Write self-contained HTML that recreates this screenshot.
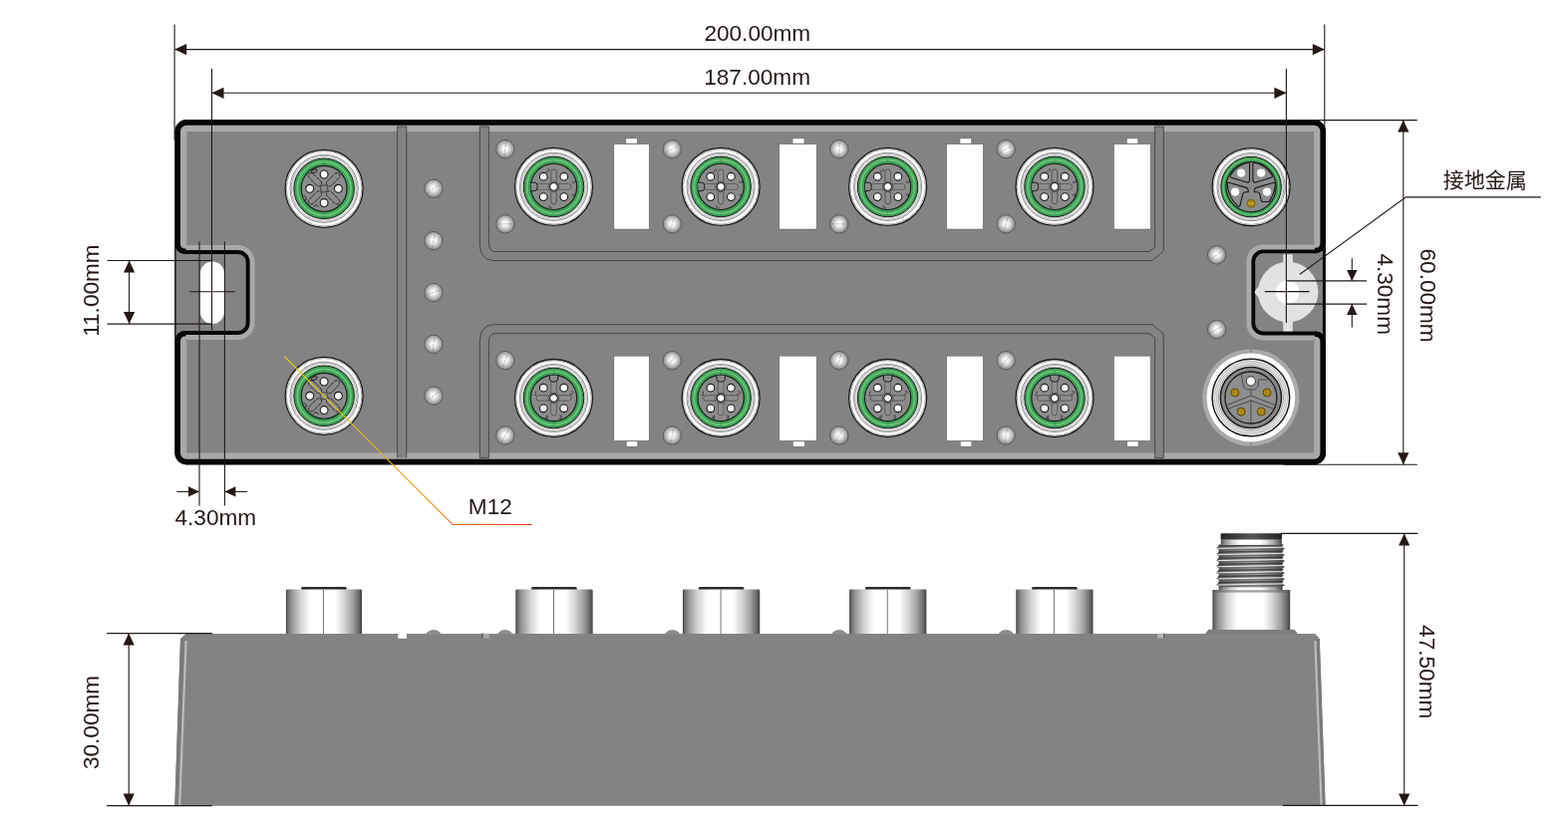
<!DOCTYPE html>
<html lang="zh">
<head>
<meta charset="utf-8">
<title>Dimension drawing</title>
<style>
html,body{margin:0;padding:0;background:#fff;}
body{width:1573px;height:839px;overflow:hidden;}
svg{display:block;transform:translateZ(0);will-change:transform;}
text{font-family:"Liberation Sans","Noto Sans CJK SC",sans-serif;font-size:22.6px;fill:#231815;}
.cjk{font-family:"Liberation Sans","Noto Sans CJK SC",sans-serif;font-size:21px;}
.dim{stroke:#231815;stroke-width:1.1;fill:none;}
.ah{fill:#231815;stroke:none;}
.thin{stroke:#2e2e2e;stroke-width:0.7;fill:none;}
</style>
</head>
<body>
<svg width="1573" height="839" viewBox="0 0 1573 839">
<defs>
<radialGradient id="screw" cx="0.5" cy="0.48" r="0.52">
<stop offset="0" stop-color="#ffffff"/><stop offset="0.25" stop-color="#f6f6f6"/><stop offset="0.55" stop-color="#cccccc"/><stop offset="0.82" stop-color="#9e9e9e"/><stop offset="1" stop-color="#888888"/>
</radialGradient>
<linearGradient id="cyl" x1="0" x2="1" y1="0" y2="0">
<stop offset="0" stop-color="#3e3e3e"/><stop offset="0.02" stop-color="#666666"/><stop offset="0.07" stop-color="#929292"/><stop offset="0.19" stop-color="#d2d2d2"/><stop offset="0.32" stop-color="#ffffff"/><stop offset="0.65" stop-color="#ffffff"/><stop offset="0.76" stop-color="#d8d8d8"/><stop offset="0.88" stop-color="#a0a0a0"/><stop offset="0.96" stop-color="#686868"/><stop offset="1" stop-color="#404040"/>
</linearGradient>
<linearGradient id="thr" x1="0" x2="1" y1="0" y2="0">
<stop offset="0" stop-color="#4a4a4a"/><stop offset="0.12" stop-color="#6e6e6e"/><stop offset="0.4" stop-color="#969696"/><stop offset="0.6" stop-color="#9e9e9e"/><stop offset="0.85" stop-color="#747474"/><stop offset="1" stop-color="#404040"/>
</linearGradient>
<linearGradient id="cap" x1="0" x2="1" y1="0" y2="0">
<stop offset="0" stop-color="#262626"/><stop offset="0.25" stop-color="#3c3c3c"/><stop offset="0.5" stop-color="#585858"/><stop offset="0.75" stop-color="#3c3c3c"/><stop offset="1" stop-color="#242424"/>
</linearGradient>
<linearGradient id="lead" gradientUnits="userSpaceOnUse" x1="285" y1="358" x2="534" y2="526">
<stop offset="0" stop-color="#e6d200"/><stop offset="0.6" stop-color="#f0a020"/><stop offset="1" stop-color="#e03a22"/>
</linearGradient>

<clipPath id="bodyclip"><path d="M187.0,120.3 H1318.4 A11.5,11.5 0 0 1 1329.9,131.8 V244.3 A10,10 0 0 1 1319.9,254.3 H1267.3 A8,8 0 0 0 1259.3,262.3 V324.5 A8,8 0 0 0 1267.3,332.5 H1319.9 A10,10 0 0 1 1329.9,342.5 V454.7 A11.5,11.5 0 0 1 1318.4,466.2 H187.0 A11.5,11.5 0 0 1 175.5,454.7 V342.0 A10,10 0 0 1 185.5,332.0 H238.7 A8,8 0 0 0 246.7,324.0 V263.0 A8,8 0 0 0 238.7,255.0 H185.5 A10,10 0 0 1 175.5,245.0 V131.8 A11.5,11.5 0 0 1 187.0,120.3 Z"/></clipPath>
</defs>
<rect x="0" y="0" width="1573" height="839" fill="#ffffff"/>
<g id="topview">
<rect x="175.4" y="240" width="80" height="105" fill="#838383"/>
<rect x="1250" y="240" width="79.6" height="105" fill="#838383"/>
<line x1="175.9" y1="240" x2="175.9" y2="345" stroke="#1a1a1a" stroke-width="1.5"/>
<line x1="1328.4" y1="240" x2="1328.4" y2="345" stroke="#0a0a0a" stroke-width="3"/>
<rect x="200.8" y="262.5" width="24.4" height="62.5" rx="12.2" ry="12.2" fill="#ffffff"/>
<g clip-path="url(#bodyclip)">
<path d="M187.0,120.3 H1318.4 A11.5,11.5 0 0 1 1329.9,131.8 V244.3 A10,10 0 0 1 1319.9,254.3 H1267.3 A8,8 0 0 0 1259.3,262.3 V324.5 A8,8 0 0 0 1267.3,332.5 H1319.9 A10,10 0 0 1 1329.9,342.5 V454.7 A11.5,11.5 0 0 1 1318.4,466.2 H187.0 A11.5,11.5 0 0 1 175.5,454.7 V342.0 A10,10 0 0 1 185.5,332.0 H238.7 A8,8 0 0 0 246.7,324.0 V263.0 A8,8 0 0 0 238.7,255.0 H185.5 A10,10 0 0 1 175.5,245.0 V131.8 A11.5,11.5 0 0 1 187.0,120.3 Z" fill="#838383"/>
<path d="M187.0,120.3 H1318.4 A11.5,11.5 0 0 1 1329.9,131.8 V244.3 A10,10 0 0 1 1319.9,254.3 H1267.3 A8,8 0 0 0 1259.3,262.3 V324.5 A8,8 0 0 0 1267.3,332.5 H1319.9 A10,10 0 0 1 1329.9,342.5 V454.7 A11.5,11.5 0 0 1 1318.4,466.2 H187.0 A11.5,11.5 0 0 1 175.5,454.7 V342.0 A10,10 0 0 1 185.5,332.0 H238.7 A8,8 0 0 0 246.7,324.0 V263.0 A8,8 0 0 0 238.7,255.0 H185.5 A10,10 0 0 1 175.5,245.0 V131.8 A11.5,11.5 0 0 1 187.0,120.3 Z" fill="none" stroke="#a9a9a9" stroke-width="17.8" stroke-linejoin="round"/>
<path d="M186.5,255.0 H185.5 A10,10 0 0 1 175.5,245.0 V131.8 A11.5,11.5 0 0 1 187.0,120.3 H1318.4 A11.5,11.5 0 0 1 1329.9,131.8 V244.3 A10,10 0 0 1 1319.9,254.3 h-1 M1318.9,332.5 H1319.9 A10,10 0 0 1 1329.9,342.5 V454.7 A11.5,11.5 0 0 1 1318.4,466.2 H187.0 A11.5,11.5 0 0 1 175.5,454.7 V342.0 A10,10 0 0 1 185.5,332.0 h1" fill="none" stroke="#a9a9a9" stroke-width="23.6" stroke-linejoin="round"/>
<path d="M187.0,120.3 H1318.4 A11.5,11.5 0 0 1 1329.9,131.8 V244.3 A10,10 0 0 1 1319.9,254.3 H1267.3 A8,8 0 0 0 1259.3,262.3 V324.5 A8,8 0 0 0 1267.3,332.5 H1319.9 A10,10 0 0 1 1329.9,342.5 V454.7 A11.5,11.5 0 0 1 1318.4,466.2 H187.0 A11.5,11.5 0 0 1 175.5,454.7 V342.0 A10,10 0 0 1 185.5,332.0 H238.7 A8,8 0 0 0 246.7,324.0 V263.0 A8,8 0 0 0 238.7,255.0 H185.5 A10,10 0 0 1 175.5,245.0 V131.8 A11.5,11.5 0 0 1 187.0,120.3 Z" fill="none" stroke="#060606" stroke-width="7.8" stroke-linejoin="round"/>
<path d="M186.5,255.0 H185.5 A10,10 0 0 1 175.5,245.0 V131.8 A11.5,11.5 0 0 1 187.0,120.3 H1318.4 A11.5,11.5 0 0 1 1329.9,131.8 V244.3 A10,10 0 0 1 1319.9,254.3 h-1 M1318.9,332.5 H1319.9 A10,10 0 0 1 1329.9,342.5 V454.7 A11.5,11.5 0 0 1 1318.4,466.2 H187.0 A11.5,11.5 0 0 1 175.5,454.7 V342.0 A10,10 0 0 1 185.5,332.0 h1" fill="none" stroke="#060606" stroke-width="11" stroke-linejoin="round"/>
</g>
<g fill="#e2e2e2">
<circle cx="1292.2" cy="293" r="30.2"/>
<path d="M1287.3,255.3 H1296.8 V262 Q1297,264.5 1300,266 H1284 Q1287,264.5 1287.3,262 Z"/>
<path d="M1287.3,332.4 H1296.8 V324 Q1297,321.5 1300,320 H1284 Q1287,321.5 1287.3,324 Z"/>
<path d="M1263.4,287.6 Q1259.4,290 1258.5,293.2 Q1259.4,296.4 1263.4,298.8 Z"/>
</g>
<ellipse cx="1291.5" cy="293.3" rx="11.8" ry="11.6" fill="#ffffff"/>
<rect x="398.6" y="127" width="9.199999999999989" height="332.5" fill="#838383"/>
<path class="thin" d="M398.6,459.5 V127 H407.8 V459.5"/>
<rect x="481.3" y="127" width="9.1" height="6" fill="#838383"/>
<rect x="1158.6" y="127" width="8.7" height="6" fill="#838383"/>
<path class="thin" d="M481.3,127 V244.7 Q481.3,260.5 495.0,261.5 H1155.8999999999999 L1166.3,252.9 Q1167.3,251.9 1167.3,250.0 V127"/>
<path class="thin" d="M490.4,127 V243.0 Q490.4,252.0 496.0,252.5 H1152.8999999999999 L1157.8,248.9 Q1158.6,248.1 1158.6,246.5 V127"/>
<path class="thin" d="M481.3,127 H490.4 M1158.6,127 H1167.3"/>
<rect x="481.3" y="453.5" width="9.1" height="6" fill="#838383"/>
<rect x="1158.6" y="453.5" width="8.7" height="6" fill="#838383"/>
<path class="thin" d="M481.3,459.5 V342.5 Q481.3,326.7 495.0,325.7 H1155.8999999999999 L1166.3,334.3 Q1167.3,335.3 1167.3,337.2 V459.5"/>
<path class="thin" d="M490.4,459.5 V344.2 Q490.4,335.2 496.0,334.7 H1152.8999999999999 L1157.8,338.3 Q1158.6,339.09999999999997 1158.6,340.7 V459.5"/>
<path class="thin" d="M481.3,459.5 H490.4 M1158.6,459.5 H1167.3"/>
<rect x="615.9" y="144.7" width="35.3" height="85.3" fill="#fff" stroke="#5a5a5a" stroke-width="0.5"/>
<rect x="627.9" y="138.9" width="11.3" height="5.2" fill="#fff" stroke="#6a6a6a" stroke-width="0.5"/>
<rect x="615.9" y="357.2" width="35.3" height="85.1" fill="#fff" stroke="#5a5a5a" stroke-width="0.5"/>
<rect x="628.3" y="442.9" width="11.3" height="5.2" fill="#fff" stroke="#6a6a6a" stroke-width="0.5"/>
<rect x="781.8" y="144.7" width="37.3" height="85.3" fill="#fff" stroke="#5a5a5a" stroke-width="0.5"/>
<rect x="795.1" y="138.9" width="11.8" height="5.2" fill="#fff" stroke="#6a6a6a" stroke-width="0.5"/>
<rect x="781.8" y="357.2" width="37.3" height="85.1" fill="#fff" stroke="#5a5a5a" stroke-width="0.5"/>
<rect x="795.5" y="442.9" width="11.8" height="5.2" fill="#fff" stroke="#6a6a6a" stroke-width="0.5"/>
<rect x="949.8" y="144.7" width="36.4" height="85.3" fill="#fff" stroke="#5a5a5a" stroke-width="0.5"/>
<rect x="963.0" y="138.9" width="11.4" height="5.2" fill="#fff" stroke="#6a6a6a" stroke-width="0.5"/>
<rect x="949.8" y="357.2" width="36.4" height="85.1" fill="#fff" stroke="#5a5a5a" stroke-width="0.5"/>
<rect x="963.4" y="442.9" width="11.4" height="5.2" fill="#fff" stroke="#6a6a6a" stroke-width="0.5"/>
<rect x="1117.5" y="144.7" width="36.6" height="85.3" fill="#fff" stroke="#5a5a5a" stroke-width="0.5"/>
<rect x="1130.4" y="138.9" width="11.2" height="5.2" fill="#fff" stroke="#6a6a6a" stroke-width="0.5"/>
<rect x="1117.5" y="357.2" width="36.6" height="85.1" fill="#fff" stroke="#5a5a5a" stroke-width="0.5"/>
<rect x="1130.8000000000002" y="442.9" width="11.2" height="5.2" fill="#fff" stroke="#6a6a6a" stroke-width="0.5"/>
<circle cx="434.9" cy="189.2" r="9.2" fill="url(#screw)" stroke="#3c3c3c" stroke-width="0.6"/>
<line x1="427.7" y1="194.2" x2="442.1" y2="184.2" stroke="#6a6a6a" stroke-width="0.4" stroke-dasharray="5 1.2 3 1"/>
<circle cx="434.9" cy="241.6" r="9.2" fill="url(#screw)" stroke="#3c3c3c" stroke-width="0.6"/>
<line x1="433.4" y1="250.2" x2="436.4" y2="233.0" stroke="#6a6a6a" stroke-width="0.4" stroke-dasharray="5 1.2 3 1"/>
<circle cx="434.9" cy="293.5" r="9.2" fill="url(#screw)" stroke="#3c3c3c" stroke-width="0.6"/>
<line x1="426.7" y1="296.5" x2="443.1" y2="290.5" stroke="#6a6a6a" stroke-width="0.4" stroke-dasharray="5 1.2 3 1"/>
<circle cx="434.9" cy="345.4" r="9.2" fill="url(#screw)" stroke="#3c3c3c" stroke-width="0.6"/>
<line x1="434.1" y1="354.1" x2="435.7" y2="336.7" stroke="#6a6a6a" stroke-width="0.4" stroke-dasharray="5 1.2 3 1"/>
<circle cx="434.9" cy="397.2" r="9.2" fill="url(#screw)" stroke="#3c3c3c" stroke-width="0.6"/>
<line x1="428.2" y1="402.8" x2="441.6" y2="391.6" stroke="#6a6a6a" stroke-width="0.4" stroke-dasharray="5 1.2 3 1"/>
<circle cx="506.8" cy="149.7" r="9.2" fill="url(#screw)" stroke="#3c3c3c" stroke-width="0.6"/>
<line x1="506.0" y1="158.4" x2="507.6" y2="141.0" stroke="#6a6a6a" stroke-width="0.4" stroke-dasharray="5 1.2 3 1"/>
<circle cx="506.8" cy="224.8" r="9.2" fill="url(#screw)" stroke="#3c3c3c" stroke-width="0.6"/>
<line x1="498.1" y1="224.8" x2="515.5" y2="224.8" stroke="#6a6a6a" stroke-width="0.4" stroke-dasharray="5 1.2 3 1"/>
<circle cx="506.8" cy="361.7" r="9.2" fill="url(#screw)" stroke="#3c3c3c" stroke-width="0.6"/>
<line x1="503.8" y1="369.9" x2="509.8" y2="353.5" stroke="#6a6a6a" stroke-width="0.4" stroke-dasharray="5 1.2 3 1"/>
<circle cx="506.8" cy="437.0" r="9.2" fill="url(#screw)" stroke="#3c3c3c" stroke-width="0.6"/>
<line x1="502.4" y1="444.6" x2="511.2" y2="429.4" stroke="#6a6a6a" stroke-width="0.4" stroke-dasharray="5 1.2 3 1"/>
<circle cx="674.3" cy="149.7" r="9.2" fill="url(#screw)" stroke="#3c3c3c" stroke-width="0.6"/>
<line x1="666.7" y1="154.1" x2="681.9" y2="145.3" stroke="#6a6a6a" stroke-width="0.4" stroke-dasharray="5 1.2 3 1"/>
<circle cx="674.3" cy="224.8" r="9.2" fill="url(#screw)" stroke="#3c3c3c" stroke-width="0.6"/>
<line x1="672.0" y1="233.2" x2="676.6" y2="216.4" stroke="#6a6a6a" stroke-width="0.4" stroke-dasharray="5 1.2 3 1"/>
<circle cx="674.3" cy="361.7" r="9.2" fill="url(#screw)" stroke="#3c3c3c" stroke-width="0.6"/>
<line x1="668.7" y1="368.4" x2="679.9" y2="355.0" stroke="#6a6a6a" stroke-width="0.4" stroke-dasharray="5 1.2 3 1"/>
<circle cx="674.3" cy="437.0" r="9.2" fill="url(#screw)" stroke="#3c3c3c" stroke-width="0.6"/>
<line x1="672.8" y1="445.6" x2="675.8" y2="428.4" stroke="#6a6a6a" stroke-width="0.4" stroke-dasharray="5 1.2 3 1"/>
<circle cx="841.8" cy="149.7" r="9.2" fill="url(#screw)" stroke="#3c3c3c" stroke-width="0.6"/>
<line x1="841.0" y1="158.4" x2="842.6" y2="141.0" stroke="#6a6a6a" stroke-width="0.4" stroke-dasharray="5 1.2 3 1"/>
<circle cx="841.8" cy="224.8" r="9.2" fill="url(#screw)" stroke="#3c3c3c" stroke-width="0.6"/>
<line x1="833.1" y1="224.8" x2="850.5" y2="224.8" stroke="#6a6a6a" stroke-width="0.4" stroke-dasharray="5 1.2 3 1"/>
<circle cx="841.8" cy="361.7" r="9.2" fill="url(#screw)" stroke="#3c3c3c" stroke-width="0.6"/>
<line x1="838.8" y1="369.9" x2="844.8" y2="353.5" stroke="#6a6a6a" stroke-width="0.4" stroke-dasharray="5 1.2 3 1"/>
<circle cx="841.8" cy="437.0" r="9.2" fill="url(#screw)" stroke="#3c3c3c" stroke-width="0.6"/>
<line x1="837.4" y1="444.6" x2="846.2" y2="429.4" stroke="#6a6a6a" stroke-width="0.4" stroke-dasharray="5 1.2 3 1"/>
<circle cx="1009.2" cy="149.7" r="9.2" fill="url(#screw)" stroke="#3c3c3c" stroke-width="0.6"/>
<line x1="1001.6" y1="154.1" x2="1016.8" y2="145.3" stroke="#6a6a6a" stroke-width="0.4" stroke-dasharray="5 1.2 3 1"/>
<circle cx="1009.2" cy="224.8" r="9.2" fill="url(#screw)" stroke="#3c3c3c" stroke-width="0.6"/>
<line x1="1006.9" y1="233.2" x2="1011.5" y2="216.4" stroke="#6a6a6a" stroke-width="0.4" stroke-dasharray="5 1.2 3 1"/>
<circle cx="1009.2" cy="361.7" r="9.2" fill="url(#screw)" stroke="#3c3c3c" stroke-width="0.6"/>
<line x1="1003.6" y1="368.4" x2="1014.8" y2="355.0" stroke="#6a6a6a" stroke-width="0.4" stroke-dasharray="5 1.2 3 1"/>
<circle cx="1009.2" cy="437.0" r="9.2" fill="url(#screw)" stroke="#3c3c3c" stroke-width="0.6"/>
<line x1="1007.7" y1="445.6" x2="1010.7" y2="428.4" stroke="#6a6a6a" stroke-width="0.4" stroke-dasharray="5 1.2 3 1"/>
<circle cx="1220.6" cy="255.9" r="9.2" fill="url(#screw)" stroke="#3c3c3c" stroke-width="0.6"/>
<line x1="1213.4" y1="260.9" x2="1227.8" y2="250.9" stroke="#6a6a6a" stroke-width="0.4" stroke-dasharray="5 1.2 3 1"/>
<circle cx="1220.6" cy="330.6" r="9.2" fill="url(#screw)" stroke="#3c3c3c" stroke-width="0.6"/>
<line x1="1213.0" y1="335.0" x2="1228.2" y2="326.2" stroke="#6a6a6a" stroke-width="0.4" stroke-dasharray="5 1.2 3 1"/>
<g transform="translate(325.1,189.3)">
<circle r="39.0" fill="#ffffff" stroke="#1a1a1a" stroke-width="1.3"/>
<circle r="37.7" fill="none" stroke="#5a5a5a" stroke-width="0.55"/>
<circle r="34.1" fill="none" stroke="#444" stroke-width="0.6"/>
<circle r="32.9" fill="none" stroke="#9a9a9a" stroke-width="0.8"/>
<circle r="31.5" fill="none" stroke="#bcbcbc" stroke-width="0.8"/>
<circle r="30.3" fill="#2f7f40" stroke="#1e1e1e" stroke-width="1"/>
<circle r="26.50" fill="none" stroke="#3f9f55" stroke-width="6.00"/>
<circle r="26.80" fill="none" stroke="#66c478" stroke-width="1.98"/>
<circle r="22.90" fill="#8b8b8b" stroke="#16241a" stroke-width="1.1"/>
<path d="M0,-30.3 V-23.4 M0,30.3 V23.4 M-30.3,0 h2 M30.3,0 h-2" stroke="#2a7038" stroke-width="0.4" fill="none" opacity="0.7"/>
<g transform="rotate(0)">
<g transform="rotate(45)"><rect x="-21" y="-2.9" width="16.4" height="5.8" rx="2.9" fill="none" stroke="#1c1c1c" stroke-width="0.85" stroke-dasharray="4 0.8"/><rect x="4.6" y="-2.9" width="16.4" height="5.8" rx="2.9" fill="none" stroke="#1c1c1c" stroke-width="0.85" stroke-dasharray="4 0.8"/></g>
<g transform="rotate(135)"><rect x="-21" y="-2.9" width="16.4" height="5.8" rx="2.9" fill="none" stroke="#1c1c1c" stroke-width="0.85" stroke-dasharray="4 0.8"/><rect x="4.6" y="-2.9" width="16.4" height="5.8" rx="2.9" fill="none" stroke="#1c1c1c" stroke-width="0.85" stroke-dasharray="4 0.8"/></g>
<circle r="3.7" fill="none" stroke="#262626" stroke-width="0.7"/>
<rect x="-12.6" y="-19" width="5.6" height="2.8" rx="1.2" transform="rotate(-24 -9.8 -17.6)" fill="#8b8b8b" stroke="#1a1a1a" stroke-width="0.9"/>
<path d="M-20.6,6.6 L-17.6,9.6 L-18.6,12.4 M-10.6,18 L-8,16.2 L-5.4,18.4" fill="none" stroke="#1a1a1a" stroke-width="0.9"/>
<circle cx="0" cy="-14.3" r="3.95" fill="#fff" stroke="#1a1a1a" stroke-width="1.1"/>
<circle cx="0" cy="14.3" r="3.95" fill="#fff" stroke="#1a1a1a" stroke-width="1.1"/>
<circle cx="-14.3" cy="0" r="3.95" fill="#fff" stroke="#1a1a1a" stroke-width="1.1"/>
<circle cx="14.3" cy="0" r="3.95" fill="#fff" stroke="#1a1a1a" stroke-width="1.1"/>
</g>
</g>
<g transform="translate(325.1,397.3)">
<circle r="39.0" fill="#ffffff" stroke="#1a1a1a" stroke-width="1.3"/>
<circle r="37.7" fill="none" stroke="#5a5a5a" stroke-width="0.55"/>
<circle r="34.1" fill="none" stroke="#444" stroke-width="0.6"/>
<circle r="32.9" fill="none" stroke="#9a9a9a" stroke-width="0.8"/>
<circle r="31.5" fill="none" stroke="#bcbcbc" stroke-width="0.8"/>
<circle r="30.3" fill="#2f7f40" stroke="#1e1e1e" stroke-width="1"/>
<circle r="26.50" fill="none" stroke="#3f9f55" stroke-width="6.00"/>
<circle r="26.80" fill="none" stroke="#66c478" stroke-width="1.98"/>
<circle r="22.90" fill="#8b8b8b" stroke="#16241a" stroke-width="1.1"/>
<path d="M0,-30.3 V-23.4 M0,30.3 V23.4 M-30.3,0 h2 M30.3,0 h-2" stroke="#2a7038" stroke-width="0.4" fill="none" opacity="0.7"/>
<g transform="rotate(0)">
<g transform="rotate(45)"><rect x="-21" y="-2.9" width="16.4" height="5.8" rx="2.9" fill="none" stroke="#1c1c1c" stroke-width="0.85" stroke-dasharray="4 0.8"/><rect x="4.6" y="-2.9" width="16.4" height="5.8" rx="2.9" fill="none" stroke="#1c1c1c" stroke-width="0.85" stroke-dasharray="4 0.8"/></g>
<g transform="rotate(135)"><rect x="-21" y="-2.9" width="16.4" height="5.8" rx="2.9" fill="none" stroke="#1c1c1c" stroke-width="0.85" stroke-dasharray="4 0.8"/><rect x="4.6" y="-2.9" width="16.4" height="5.8" rx="2.9" fill="none" stroke="#1c1c1c" stroke-width="0.85" stroke-dasharray="4 0.8"/></g>
<circle r="3.7" fill="none" stroke="#262626" stroke-width="0.7"/>
<rect x="-12.6" y="-19" width="5.6" height="2.8" rx="1.2" transform="rotate(-24 -9.8 -17.6)" fill="#8b8b8b" stroke="#1a1a1a" stroke-width="0.9"/>
<path d="M-20.6,6.6 L-17.6,9.6 L-18.6,12.4 M-10.6,18 L-8,16.2 L-5.4,18.4" fill="none" stroke="#1a1a1a" stroke-width="0.9"/>
<circle cx="0" cy="-14.3" r="3.95" fill="#fff" stroke="#1a1a1a" stroke-width="1.1"/>
<circle cx="0" cy="14.3" r="3.95" fill="#fff" stroke="#1a1a1a" stroke-width="1.1"/>
<circle cx="-14.3" cy="0" r="3.95" fill="#fff" stroke="#1a1a1a" stroke-width="1.1"/>
<circle cx="14.3" cy="0" r="3.95" fill="#fff" stroke="#1a1a1a" stroke-width="1.1"/>
</g>
</g>
<g transform="translate(555.5,187.4)">
<circle r="39.0" fill="#ffffff" stroke="#1a1a1a" stroke-width="1.3"/>
<circle r="37.7" fill="none" stroke="#5a5a5a" stroke-width="0.55"/>
<circle r="34.1" fill="none" stroke="#444" stroke-width="0.6"/>
<circle r="32.9" fill="none" stroke="#9a9a9a" stroke-width="0.8"/>
<circle r="31.5" fill="none" stroke="#bcbcbc" stroke-width="0.8"/>
<circle r="30.3" fill="#2f7f40" stroke="#1e1e1e" stroke-width="1"/>
<circle r="26.60" fill="none" stroke="#3f9f55" stroke-width="5.80"/>
<circle r="26.90" fill="none" stroke="#66c478" stroke-width="1.92"/>
<circle r="23.10" fill="#8b8b8b" stroke="#16241a" stroke-width="1.1"/>
<path d="M0,-30.3 V-23.4 M0,30.3 V23.4 M-30.3,0 h2 M30.3,0 h-2" stroke="#2a7038" stroke-width="0.4" fill="none" opacity="0.7"/>
<g transform="rotate(0)">
<rect x="-17.5" y="-2.7" width="35" height="5.4" rx="2.7" fill="#8e8e8e" stroke="#333" stroke-width="0.6"/>
<rect x="-2.7" y="-17.5" width="5.4" height="35" rx="2.7" fill="#8e8e8e" stroke="#333" stroke-width="0.6"/>
<rect x="-16.8" y="-2.3" width="33.6" height="4.6" rx="2.3" fill="#8e8e8e"/>
<circle r="5.4" fill="#8e8e8e" stroke="#333" stroke-width="0.6"/>
<path d="M-22.8,-4.2 H-19.4 Q-16.4,-4.2 -16.4,-1.2 V1.2 Q-16.4,4.2 -19.4,4.2 H-22.8" fill="#8b8b8b" stroke="#1a1a1a" stroke-width="1"/>
<circle cx="-10.3" cy="-10.2" r="3.8499999999999996" fill="#fff" stroke="#1a1a1a" stroke-width="1.1"/>
<circle cx="10.3" cy="-10.2" r="3.8499999999999996" fill="#fff" stroke="#1a1a1a" stroke-width="1.1"/>
<circle cx="-10.3" cy="10.2" r="3.8499999999999996" fill="#fff" stroke="#1a1a1a" stroke-width="1.1"/>
<circle cx="10.3" cy="10.2" r="3.8499999999999996" fill="#fff" stroke="#1a1a1a" stroke-width="1.1"/>
<circle cx="0" cy="0" r="3.8499999999999996" fill="#fff" stroke="#1a1a1a" stroke-width="1.1"/>
</g>
<text x="0" y="0" transform="translate(-7,-14.6) rotate(40)" style="font-size:5.4px;fill:#1e1e1e" text-anchor="middle">2</text>
<text x="0" y="0" transform="translate(18.6,-4.2) rotate(60)" style="font-size:5.4px;fill:#1e1e1e" text-anchor="middle">3</text>
<text x="0" y="0" transform="translate(-4.6,19.5) rotate(130)" style="font-size:5.4px;fill:#1e1e1e" text-anchor="middle">1</text>
<text x="0" y="0" transform="translate(18.6,7.4) rotate(120)" style="font-size:5.4px;fill:#1e1e1e" text-anchor="middle">4</text>
</g>
<g transform="translate(555.5,399.5)">
<circle r="39.0" fill="#ffffff" stroke="#1a1a1a" stroke-width="1.3"/>
<circle r="37.7" fill="none" stroke="#5a5a5a" stroke-width="0.55"/>
<circle r="34.1" fill="none" stroke="#444" stroke-width="0.6"/>
<circle r="32.9" fill="none" stroke="#9a9a9a" stroke-width="0.8"/>
<circle r="31.5" fill="none" stroke="#bcbcbc" stroke-width="0.8"/>
<circle r="30.3" fill="#2f7f40" stroke="#1e1e1e" stroke-width="1"/>
<circle r="26.60" fill="none" stroke="#3f9f55" stroke-width="5.80"/>
<circle r="26.90" fill="none" stroke="#66c478" stroke-width="1.92"/>
<circle r="23.10" fill="#8b8b8b" stroke="#16241a" stroke-width="1.1"/>
<path d="M0,-30.3 V-23.4 M0,30.3 V23.4 M-30.3,0 h2 M30.3,0 h-2" stroke="#2a7038" stroke-width="0.4" fill="none" opacity="0.7"/>
<g transform="rotate(90)">
<rect x="-17.5" y="-2.7" width="35" height="5.4" rx="2.7" fill="#8e8e8e" stroke="#333" stroke-width="0.6"/>
<rect x="-2.7" y="-17.5" width="5.4" height="35" rx="2.7" fill="#8e8e8e" stroke="#333" stroke-width="0.6"/>
<rect x="-16.8" y="-2.3" width="33.6" height="4.6" rx="2.3" fill="#8e8e8e"/>
<circle r="5.4" fill="#8e8e8e" stroke="#333" stroke-width="0.6"/>
<path d="M-22.8,-4.2 H-19.4 Q-16.4,-4.2 -16.4,-1.2 V1.2 Q-16.4,4.2 -19.4,4.2 H-22.8" fill="#8b8b8b" stroke="#1a1a1a" stroke-width="1"/>
<circle cx="-10.3" cy="-10.2" r="3.8499999999999996" fill="#fff" stroke="#1a1a1a" stroke-width="1.1"/>
<circle cx="10.3" cy="-10.2" r="3.8499999999999996" fill="#fff" stroke="#1a1a1a" stroke-width="1.1"/>
<circle cx="-10.3" cy="10.2" r="3.8499999999999996" fill="#fff" stroke="#1a1a1a" stroke-width="1.1"/>
<circle cx="10.3" cy="10.2" r="3.8499999999999996" fill="#fff" stroke="#1a1a1a" stroke-width="1.1"/>
<circle cx="0" cy="0" r="3.8499999999999996" fill="#fff" stroke="#1a1a1a" stroke-width="1.1"/>
</g>
<text x="0" y="0" transform="translate(-18.4,-2.4) rotate(10)" style="font-size:6.4px;fill:#1e1e1e" text-anchor="middle">1</text>
<text x="0" y="0" transform="translate(17.4,-2.8) rotate(20)" style="font-size:6.4px;fill:#1e1e1e" text-anchor="middle">2</text>
<text x="0" y="0" transform="translate(-7.6,21.6) rotate(10)" style="font-size:6.4px;fill:#1e1e1e" text-anchor="middle">4</text>
<text x="0" y="0" transform="translate(6.4,21.4) rotate(5)" style="font-size:6.4px;fill:#1e1e1e" text-anchor="middle">3</text>
</g>
<g transform="translate(723.1,187.4)">
<circle r="39.0" fill="#ffffff" stroke="#1a1a1a" stroke-width="1.3"/>
<circle r="37.7" fill="none" stroke="#5a5a5a" stroke-width="0.55"/>
<circle r="34.1" fill="none" stroke="#444" stroke-width="0.6"/>
<circle r="32.9" fill="none" stroke="#9a9a9a" stroke-width="0.8"/>
<circle r="31.5" fill="none" stroke="#bcbcbc" stroke-width="0.8"/>
<circle r="30.3" fill="#2f7f40" stroke="#1e1e1e" stroke-width="1"/>
<circle r="26.60" fill="none" stroke="#3f9f55" stroke-width="5.80"/>
<circle r="26.90" fill="none" stroke="#66c478" stroke-width="1.92"/>
<circle r="23.10" fill="#8b8b8b" stroke="#16241a" stroke-width="1.1"/>
<path d="M0,-30.3 V-23.4 M0,30.3 V23.4 M-30.3,0 h2 M30.3,0 h-2" stroke="#2a7038" stroke-width="0.4" fill="none" opacity="0.7"/>
<g transform="rotate(0)">
<rect x="-17.5" y="-2.7" width="35" height="5.4" rx="2.7" fill="#8e8e8e" stroke="#333" stroke-width="0.6"/>
<rect x="-2.7" y="-17.5" width="5.4" height="35" rx="2.7" fill="#8e8e8e" stroke="#333" stroke-width="0.6"/>
<rect x="-16.8" y="-2.3" width="33.6" height="4.6" rx="2.3" fill="#8e8e8e"/>
<circle r="5.4" fill="#8e8e8e" stroke="#333" stroke-width="0.6"/>
<path d="M-22.8,-4.2 H-19.4 Q-16.4,-4.2 -16.4,-1.2 V1.2 Q-16.4,4.2 -19.4,4.2 H-22.8" fill="#8b8b8b" stroke="#1a1a1a" stroke-width="1"/>
<circle cx="-10.3" cy="-10.2" r="3.8499999999999996" fill="#fff" stroke="#1a1a1a" stroke-width="1.1"/>
<circle cx="10.3" cy="-10.2" r="3.8499999999999996" fill="#fff" stroke="#1a1a1a" stroke-width="1.1"/>
<circle cx="-10.3" cy="10.2" r="3.8499999999999996" fill="#fff" stroke="#1a1a1a" stroke-width="1.1"/>
<circle cx="10.3" cy="10.2" r="3.8499999999999996" fill="#fff" stroke="#1a1a1a" stroke-width="1.1"/>
<circle cx="0" cy="0" r="3.8499999999999996" fill="#fff" stroke="#1a1a1a" stroke-width="1.1"/>
</g>
<text x="0" y="0" transform="translate(-7,-14.6) rotate(40)" style="font-size:5.4px;fill:#1e1e1e" text-anchor="middle">2</text>
<text x="0" y="0" transform="translate(18.6,-4.2) rotate(60)" style="font-size:5.4px;fill:#1e1e1e" text-anchor="middle">3</text>
<text x="0" y="0" transform="translate(-4.6,19.5) rotate(130)" style="font-size:5.4px;fill:#1e1e1e" text-anchor="middle">1</text>
<text x="0" y="0" transform="translate(18.6,7.4) rotate(120)" style="font-size:5.4px;fill:#1e1e1e" text-anchor="middle">4</text>
</g>
<g transform="translate(723.1,399.5)">
<circle r="39.0" fill="#ffffff" stroke="#1a1a1a" stroke-width="1.3"/>
<circle r="37.7" fill="none" stroke="#5a5a5a" stroke-width="0.55"/>
<circle r="34.1" fill="none" stroke="#444" stroke-width="0.6"/>
<circle r="32.9" fill="none" stroke="#9a9a9a" stroke-width="0.8"/>
<circle r="31.5" fill="none" stroke="#bcbcbc" stroke-width="0.8"/>
<circle r="30.3" fill="#2f7f40" stroke="#1e1e1e" stroke-width="1"/>
<circle r="26.60" fill="none" stroke="#3f9f55" stroke-width="5.80"/>
<circle r="26.90" fill="none" stroke="#66c478" stroke-width="1.92"/>
<circle r="23.10" fill="#8b8b8b" stroke="#16241a" stroke-width="1.1"/>
<path d="M0,-30.3 V-23.4 M0,30.3 V23.4 M-30.3,0 h2 M30.3,0 h-2" stroke="#2a7038" stroke-width="0.4" fill="none" opacity="0.7"/>
<g transform="rotate(90)">
<rect x="-17.5" y="-2.7" width="35" height="5.4" rx="2.7" fill="#8e8e8e" stroke="#333" stroke-width="0.6"/>
<rect x="-2.7" y="-17.5" width="5.4" height="35" rx="2.7" fill="#8e8e8e" stroke="#333" stroke-width="0.6"/>
<rect x="-16.8" y="-2.3" width="33.6" height="4.6" rx="2.3" fill="#8e8e8e"/>
<circle r="5.4" fill="#8e8e8e" stroke="#333" stroke-width="0.6"/>
<path d="M-22.8,-4.2 H-19.4 Q-16.4,-4.2 -16.4,-1.2 V1.2 Q-16.4,4.2 -19.4,4.2 H-22.8" fill="#8b8b8b" stroke="#1a1a1a" stroke-width="1"/>
<circle cx="-10.3" cy="-10.2" r="3.8499999999999996" fill="#fff" stroke="#1a1a1a" stroke-width="1.1"/>
<circle cx="10.3" cy="-10.2" r="3.8499999999999996" fill="#fff" stroke="#1a1a1a" stroke-width="1.1"/>
<circle cx="-10.3" cy="10.2" r="3.8499999999999996" fill="#fff" stroke="#1a1a1a" stroke-width="1.1"/>
<circle cx="10.3" cy="10.2" r="3.8499999999999996" fill="#fff" stroke="#1a1a1a" stroke-width="1.1"/>
<circle cx="0" cy="0" r="3.8499999999999996" fill="#fff" stroke="#1a1a1a" stroke-width="1.1"/>
</g>
<text x="0" y="0" transform="translate(-18.4,-2.4) rotate(10)" style="font-size:6.4px;fill:#1e1e1e" text-anchor="middle">1</text>
<text x="0" y="0" transform="translate(17.4,-2.8) rotate(20)" style="font-size:6.4px;fill:#1e1e1e" text-anchor="middle">2</text>
<text x="0" y="0" transform="translate(-7.6,21.6) rotate(10)" style="font-size:6.4px;fill:#1e1e1e" text-anchor="middle">4</text>
<text x="0" y="0" transform="translate(6.4,21.4) rotate(5)" style="font-size:6.4px;fill:#1e1e1e" text-anchor="middle">3</text>
</g>
<g transform="translate(890.6,187.4)">
<circle r="39.0" fill="#ffffff" stroke="#1a1a1a" stroke-width="1.3"/>
<circle r="37.7" fill="none" stroke="#5a5a5a" stroke-width="0.55"/>
<circle r="34.1" fill="none" stroke="#444" stroke-width="0.6"/>
<circle r="32.9" fill="none" stroke="#9a9a9a" stroke-width="0.8"/>
<circle r="31.5" fill="none" stroke="#bcbcbc" stroke-width="0.8"/>
<circle r="30.3" fill="#2f7f40" stroke="#1e1e1e" stroke-width="1"/>
<circle r="26.60" fill="none" stroke="#3f9f55" stroke-width="5.80"/>
<circle r="26.90" fill="none" stroke="#66c478" stroke-width="1.92"/>
<circle r="23.10" fill="#8b8b8b" stroke="#16241a" stroke-width="1.1"/>
<path d="M0,-30.3 V-23.4 M0,30.3 V23.4 M-30.3,0 h2 M30.3,0 h-2" stroke="#2a7038" stroke-width="0.4" fill="none" opacity="0.7"/>
<g transform="rotate(0)">
<rect x="-17.5" y="-2.7" width="35" height="5.4" rx="2.7" fill="#8e8e8e" stroke="#333" stroke-width="0.6"/>
<rect x="-2.7" y="-17.5" width="5.4" height="35" rx="2.7" fill="#8e8e8e" stroke="#333" stroke-width="0.6"/>
<rect x="-16.8" y="-2.3" width="33.6" height="4.6" rx="2.3" fill="#8e8e8e"/>
<circle r="5.4" fill="#8e8e8e" stroke="#333" stroke-width="0.6"/>
<path d="M-22.8,-4.2 H-19.4 Q-16.4,-4.2 -16.4,-1.2 V1.2 Q-16.4,4.2 -19.4,4.2 H-22.8" fill="#8b8b8b" stroke="#1a1a1a" stroke-width="1"/>
<circle cx="-10.3" cy="-10.2" r="3.8499999999999996" fill="#fff" stroke="#1a1a1a" stroke-width="1.1"/>
<circle cx="10.3" cy="-10.2" r="3.8499999999999996" fill="#fff" stroke="#1a1a1a" stroke-width="1.1"/>
<circle cx="-10.3" cy="10.2" r="3.8499999999999996" fill="#fff" stroke="#1a1a1a" stroke-width="1.1"/>
<circle cx="10.3" cy="10.2" r="3.8499999999999996" fill="#fff" stroke="#1a1a1a" stroke-width="1.1"/>
<circle cx="0" cy="0" r="3.8499999999999996" fill="#fff" stroke="#1a1a1a" stroke-width="1.1"/>
</g>
<text x="0" y="0" transform="translate(-7,-14.6) rotate(40)" style="font-size:5.4px;fill:#1e1e1e" text-anchor="middle">2</text>
<text x="0" y="0" transform="translate(18.6,-4.2) rotate(60)" style="font-size:5.4px;fill:#1e1e1e" text-anchor="middle">3</text>
<text x="0" y="0" transform="translate(-4.6,19.5) rotate(130)" style="font-size:5.4px;fill:#1e1e1e" text-anchor="middle">1</text>
<text x="0" y="0" transform="translate(18.6,7.4) rotate(120)" style="font-size:5.4px;fill:#1e1e1e" text-anchor="middle">4</text>
</g>
<g transform="translate(890.6,399.5)">
<circle r="39.0" fill="#ffffff" stroke="#1a1a1a" stroke-width="1.3"/>
<circle r="37.7" fill="none" stroke="#5a5a5a" stroke-width="0.55"/>
<circle r="34.1" fill="none" stroke="#444" stroke-width="0.6"/>
<circle r="32.9" fill="none" stroke="#9a9a9a" stroke-width="0.8"/>
<circle r="31.5" fill="none" stroke="#bcbcbc" stroke-width="0.8"/>
<circle r="30.3" fill="#2f7f40" stroke="#1e1e1e" stroke-width="1"/>
<circle r="26.60" fill="none" stroke="#3f9f55" stroke-width="5.80"/>
<circle r="26.90" fill="none" stroke="#66c478" stroke-width="1.92"/>
<circle r="23.10" fill="#8b8b8b" stroke="#16241a" stroke-width="1.1"/>
<path d="M0,-30.3 V-23.4 M0,30.3 V23.4 M-30.3,0 h2 M30.3,0 h-2" stroke="#2a7038" stroke-width="0.4" fill="none" opacity="0.7"/>
<g transform="rotate(90)">
<rect x="-17.5" y="-2.7" width="35" height="5.4" rx="2.7" fill="#8e8e8e" stroke="#333" stroke-width="0.6"/>
<rect x="-2.7" y="-17.5" width="5.4" height="35" rx="2.7" fill="#8e8e8e" stroke="#333" stroke-width="0.6"/>
<rect x="-16.8" y="-2.3" width="33.6" height="4.6" rx="2.3" fill="#8e8e8e"/>
<circle r="5.4" fill="#8e8e8e" stroke="#333" stroke-width="0.6"/>
<path d="M-22.8,-4.2 H-19.4 Q-16.4,-4.2 -16.4,-1.2 V1.2 Q-16.4,4.2 -19.4,4.2 H-22.8" fill="#8b8b8b" stroke="#1a1a1a" stroke-width="1"/>
<circle cx="-10.3" cy="-10.2" r="3.8499999999999996" fill="#fff" stroke="#1a1a1a" stroke-width="1.1"/>
<circle cx="10.3" cy="-10.2" r="3.8499999999999996" fill="#fff" stroke="#1a1a1a" stroke-width="1.1"/>
<circle cx="-10.3" cy="10.2" r="3.8499999999999996" fill="#fff" stroke="#1a1a1a" stroke-width="1.1"/>
<circle cx="10.3" cy="10.2" r="3.8499999999999996" fill="#fff" stroke="#1a1a1a" stroke-width="1.1"/>
<circle cx="0" cy="0" r="3.8499999999999996" fill="#fff" stroke="#1a1a1a" stroke-width="1.1"/>
</g>
<text x="0" y="0" transform="translate(-18.4,-2.4) rotate(10)" style="font-size:6.4px;fill:#1e1e1e" text-anchor="middle">1</text>
<text x="0" y="0" transform="translate(17.4,-2.8) rotate(20)" style="font-size:6.4px;fill:#1e1e1e" text-anchor="middle">2</text>
<text x="0" y="0" transform="translate(-7.6,21.6) rotate(10)" style="font-size:6.4px;fill:#1e1e1e" text-anchor="middle">4</text>
<text x="0" y="0" transform="translate(6.4,21.4) rotate(5)" style="font-size:6.4px;fill:#1e1e1e" text-anchor="middle">3</text>
</g>
<g transform="translate(1058.0,187.4)">
<circle r="39.0" fill="#ffffff" stroke="#1a1a1a" stroke-width="1.3"/>
<circle r="37.7" fill="none" stroke="#5a5a5a" stroke-width="0.55"/>
<circle r="34.1" fill="none" stroke="#444" stroke-width="0.6"/>
<circle r="32.9" fill="none" stroke="#9a9a9a" stroke-width="0.8"/>
<circle r="31.5" fill="none" stroke="#bcbcbc" stroke-width="0.8"/>
<circle r="30.3" fill="#2f7f40" stroke="#1e1e1e" stroke-width="1"/>
<circle r="26.60" fill="none" stroke="#3f9f55" stroke-width="5.80"/>
<circle r="26.90" fill="none" stroke="#66c478" stroke-width="1.92"/>
<circle r="23.10" fill="#8b8b8b" stroke="#16241a" stroke-width="1.1"/>
<path d="M0,-30.3 V-23.4 M0,30.3 V23.4 M-30.3,0 h2 M30.3,0 h-2" stroke="#2a7038" stroke-width="0.4" fill="none" opacity="0.7"/>
<g transform="rotate(0)">
<rect x="-17.5" y="-2.7" width="35" height="5.4" rx="2.7" fill="#8e8e8e" stroke="#333" stroke-width="0.6"/>
<rect x="-2.7" y="-17.5" width="5.4" height="35" rx="2.7" fill="#8e8e8e" stroke="#333" stroke-width="0.6"/>
<rect x="-16.8" y="-2.3" width="33.6" height="4.6" rx="2.3" fill="#8e8e8e"/>
<circle r="5.4" fill="#8e8e8e" stroke="#333" stroke-width="0.6"/>
<path d="M-22.8,-4.2 H-19.4 Q-16.4,-4.2 -16.4,-1.2 V1.2 Q-16.4,4.2 -19.4,4.2 H-22.8" fill="#8b8b8b" stroke="#1a1a1a" stroke-width="1"/>
<circle cx="-10.3" cy="-10.2" r="3.8499999999999996" fill="#fff" stroke="#1a1a1a" stroke-width="1.1"/>
<circle cx="10.3" cy="-10.2" r="3.8499999999999996" fill="#fff" stroke="#1a1a1a" stroke-width="1.1"/>
<circle cx="-10.3" cy="10.2" r="3.8499999999999996" fill="#fff" stroke="#1a1a1a" stroke-width="1.1"/>
<circle cx="10.3" cy="10.2" r="3.8499999999999996" fill="#fff" stroke="#1a1a1a" stroke-width="1.1"/>
<circle cx="0" cy="0" r="3.8499999999999996" fill="#fff" stroke="#1a1a1a" stroke-width="1.1"/>
</g>
<text x="0" y="0" transform="translate(-7,-14.6) rotate(40)" style="font-size:5.4px;fill:#1e1e1e" text-anchor="middle">2</text>
<text x="0" y="0" transform="translate(18.6,-4.2) rotate(60)" style="font-size:5.4px;fill:#1e1e1e" text-anchor="middle">3</text>
<text x="0" y="0" transform="translate(-4.6,19.5) rotate(130)" style="font-size:5.4px;fill:#1e1e1e" text-anchor="middle">1</text>
<text x="0" y="0" transform="translate(18.6,7.4) rotate(120)" style="font-size:5.4px;fill:#1e1e1e" text-anchor="middle">4</text>
</g>
<g transform="translate(1058.0,399.5)">
<circle r="39.0" fill="#ffffff" stroke="#1a1a1a" stroke-width="1.3"/>
<circle r="37.7" fill="none" stroke="#5a5a5a" stroke-width="0.55"/>
<circle r="34.1" fill="none" stroke="#444" stroke-width="0.6"/>
<circle r="32.9" fill="none" stroke="#9a9a9a" stroke-width="0.8"/>
<circle r="31.5" fill="none" stroke="#bcbcbc" stroke-width="0.8"/>
<circle r="30.3" fill="#2f7f40" stroke="#1e1e1e" stroke-width="1"/>
<circle r="26.60" fill="none" stroke="#3f9f55" stroke-width="5.80"/>
<circle r="26.90" fill="none" stroke="#66c478" stroke-width="1.92"/>
<circle r="23.10" fill="#8b8b8b" stroke="#16241a" stroke-width="1.1"/>
<path d="M0,-30.3 V-23.4 M0,30.3 V23.4 M-30.3,0 h2 M30.3,0 h-2" stroke="#2a7038" stroke-width="0.4" fill="none" opacity="0.7"/>
<g transform="rotate(90)">
<rect x="-17.5" y="-2.7" width="35" height="5.4" rx="2.7" fill="#8e8e8e" stroke="#333" stroke-width="0.6"/>
<rect x="-2.7" y="-17.5" width="5.4" height="35" rx="2.7" fill="#8e8e8e" stroke="#333" stroke-width="0.6"/>
<rect x="-16.8" y="-2.3" width="33.6" height="4.6" rx="2.3" fill="#8e8e8e"/>
<circle r="5.4" fill="#8e8e8e" stroke="#333" stroke-width="0.6"/>
<path d="M-22.8,-4.2 H-19.4 Q-16.4,-4.2 -16.4,-1.2 V1.2 Q-16.4,4.2 -19.4,4.2 H-22.8" fill="#8b8b8b" stroke="#1a1a1a" stroke-width="1"/>
<circle cx="-10.3" cy="-10.2" r="3.8499999999999996" fill="#fff" stroke="#1a1a1a" stroke-width="1.1"/>
<circle cx="10.3" cy="-10.2" r="3.8499999999999996" fill="#fff" stroke="#1a1a1a" stroke-width="1.1"/>
<circle cx="-10.3" cy="10.2" r="3.8499999999999996" fill="#fff" stroke="#1a1a1a" stroke-width="1.1"/>
<circle cx="10.3" cy="10.2" r="3.8499999999999996" fill="#fff" stroke="#1a1a1a" stroke-width="1.1"/>
<circle cx="0" cy="0" r="3.8499999999999996" fill="#fff" stroke="#1a1a1a" stroke-width="1.1"/>
</g>
<text x="0" y="0" transform="translate(-18.4,-2.4) rotate(10)" style="font-size:6.4px;fill:#1e1e1e" text-anchor="middle">1</text>
<text x="0" y="0" transform="translate(17.4,-2.8) rotate(20)" style="font-size:6.4px;fill:#1e1e1e" text-anchor="middle">2</text>
<text x="0" y="0" transform="translate(-7.6,21.6) rotate(10)" style="font-size:6.4px;fill:#1e1e1e" text-anchor="middle">4</text>
<text x="0" y="0" transform="translate(6.4,21.4) rotate(5)" style="font-size:6.4px;fill:#1e1e1e" text-anchor="middle">3</text>
</g>
<g transform="translate(1255.1,187.6)">
<circle r="39.0" fill="#ffffff" stroke="#1a1a1a" stroke-width="1.3"/>
<circle r="37.7" fill="none" stroke="#5a5a5a" stroke-width="0.55"/>
<circle r="34.1" fill="none" stroke="#444" stroke-width="0.6"/>
<circle r="32.9" fill="none" stroke="#9a9a9a" stroke-width="0.8"/>
<circle r="31.5" fill="none" stroke="#bcbcbc" stroke-width="0.8"/>
<circle r="30.3" fill="#2f7f40" stroke="#1e1e1e" stroke-width="1"/>
<circle r="27.60" fill="none" stroke="#3f9f55" stroke-width="3.80"/>
<circle r="27.90" fill="none" stroke="#66c478" stroke-width="1.32"/>
<circle r="25.10" fill="#8b8b8b" stroke="#16241a" stroke-width="1.1"/>
<path d="M0,-30.3 V-23.4 M0,30.3 V23.4 M-30.3,0 h2 M30.3,0 h-2" stroke="#2a7038" stroke-width="0.4" fill="none" opacity="0.7"/>
<g transform="scale(0.965)">
<path d="M-1.6,-24.3 V-6.6 Q-1.8,-4.2 -4.2,-4.8 L-20.4,-9.6 Q-22.4,-10.4 -21.4,-12.4 Q-14.5,-23 -3,-25.2 Q-1.6,-25.4 -1.6,-24.3 Z" fill="#8e8e8e" stroke="#161616" stroke-width="1.15" stroke-linejoin="round"/>
<path d="M1.9,-24.3 V-6.6 Q2.1,-4.2 4.5,-4.8 L20.7,-9.6 Q22.7,-10.4 21.7,-12.4 Q14.8,-23 3.3,-25.2 Q1.9,-25.4 1.9,-24.3 Z" fill="#8e8e8e" stroke="#161616" stroke-width="1.15" stroke-linejoin="round"/>
<path d="M-23.2,-4.6 L-5,0.8 Q-3,1.6 -3,3.6 V5.4 H-6.4 Q-8,5.6 -8.6,7.4 L-11.6,19.6 Q-12.2,20.8 -13.6,20 Q-24,11 -24.8,-3.4 Q-24.6,-5 -23.2,-4.6 Z" fill="#8e8e8e" stroke="#161616" stroke-width="1.15" stroke-linejoin="round"/>
<path d="M23.6,-4.6 L5.4,0.8 Q3.4,1.6 3.4,3.6 V5.4 H6.8 Q8.4,5.6 9,7.4 L10.6,14.2 Q11,15.4 12.4,15.4 H18.6 Q24.4,8 25.2,-3.4 Q25,-5 23.6,-4.6 Z" fill="#8e8e8e" stroke="#161616" stroke-width="1.15" stroke-linejoin="round"/>
</g>
<circle cx="-10" cy="-14" r="4.1" fill="#fff"/>
<circle cx="10" cy="-14" r="4.1" fill="#fff"/>
<circle cx="-16" cy="5" r="4.1" fill="#fff"/>
<circle cx="16" cy="5" r="4.1" fill="#fff"/>
<circle cx="0" cy="16.6" r="3.9" fill="#b08c14" stroke="#5e4a08" stroke-width="0.8"/>
<path d="M-3.4,16.6 H3.4" stroke="#d8b848" stroke-width="0.8"/>
</g>
<g transform="translate(1254.9,399)">
<circle r="48.6" fill="#a9a9a9"/>
<path d="M0,-48.6 V-44" stroke="#666" stroke-width="0.7"/><path d="M0,48.6 V44" stroke="#666" stroke-width="0.7"/>
<circle r="44.4" fill="#ffffff"/>
<circle r="38.8" fill="#f4f4f4" stroke="#1a1a1a" stroke-width="1.5"/>
<circle r="36.4" fill="none" stroke="#a0a0a0" stroke-width="0.8"/>
<circle r="34.4" fill="none" stroke="#c0c0c0" stroke-width="1.2"/>
<circle r="32.6" fill="none" stroke="#888" stroke-width="0.8"/>
<circle r="30.6" fill="#8a8a8a" stroke="#1a1a1a" stroke-width="1.5"/>
<circle r="26" fill="#8e8e8e" stroke="#1a1a1a" stroke-width="1.3"/>
<path class="thin" d="M0,-8 V-2 L-24,7.5 M0,-2 L24,7.5 M0,3 L-23.5,11.5 M0,3 L23.5,11.5 M0,3 V26 M-9.5,-23.5 L-7.5,-11 L-4,-8 H4 L7.5,-11.5 V-18 H17.5" />
<circle cx="0" cy="-16.5" r="4.6" fill="#fff" stroke="#222" stroke-width="0.9"/>
<circle cx="-16" cy="-5" r="4" fill="#aa8a12" stroke="#4e3e06" stroke-width="0.9"/>
<circle cx="16.2" cy="-5" r="4" fill="#aa8a12" stroke="#4e3e06" stroke-width="0.9"/>
<circle cx="-9.9" cy="14.1" r="4" fill="#aa8a12" stroke="#4e3e06" stroke-width="0.9"/>
<circle cx="10.3" cy="14.1" r="4" fill="#aa8a12" stroke="#4e3e06" stroke-width="0.9"/>
</g>
</g>
<g id="sideview">
<rect x="302.05" y="588.9" width="45.8" height="3.6" rx="1.6" fill="#2a2a2a"/>
<rect x="286.90" y="591.5" width="76.10" height="45" rx="1.2" fill="url(#cyl)"/>
<line x1="324.45" y1="591.8" x2="324.45" y2="636" stroke="#3a3a3a" stroke-width="0.7"/>
<rect x="533.05" y="588.9" width="45.8" height="3.6" rx="1.6" fill="#2a2a2a"/>
<rect x="517.25" y="591.5" width="77.40" height="45" rx="1.2" fill="url(#cyl)"/>
<line x1="555.45" y1="591.8" x2="555.45" y2="636" stroke="#3a3a3a" stroke-width="0.7"/>
<rect x="700.70" y="588.9" width="45.8" height="3.6" rx="1.6" fill="#2a2a2a"/>
<rect x="684.95" y="591.5" width="77.30" height="45" rx="1.2" fill="url(#cyl)"/>
<line x1="723.10" y1="591.8" x2="723.10" y2="636" stroke="#3a3a3a" stroke-width="0.7"/>
<rect x="867.85" y="588.9" width="45.8" height="3.6" rx="1.6" fill="#2a2a2a"/>
<rect x="852.10" y="591.5" width="77.30" height="45" rx="1.2" fill="url(#cyl)"/>
<line x1="890.25" y1="591.8" x2="890.25" y2="636" stroke="#3a3a3a" stroke-width="0.7"/>
<rect x="1035.00" y="588.9" width="45.8" height="3.6" rx="1.6" fill="#2a2a2a"/>
<rect x="1019.25" y="591.5" width="77.30" height="45" rx="1.2" fill="url(#cyl)"/>
<line x1="1057.40" y1="591.8" x2="1057.40" y2="636" stroke="#3a3a3a" stroke-width="0.7"/>
<path d="M1208.4,636.4 L1212.4,631.8 H1298.4 L1302.4,636.4 Z" fill="#7e7e7e"/>
<rect x="1216.4" y="592" width="77.8" height="40" fill="url(#cyl)"/>
<rect x="1216.4" y="592" width="77.8" height="2.6" fill="#555" opacity="0.55"/>
<rect x="1222.8" y="546.5" width="63.6" height="45.5" fill="url(#thr)"/>
<path d="M1223,547.8 L1220.2,550.0 L1223,552.2 H1286.2 L1289,550.8 L1286.2,548.6 Z" fill="url(#thr)"/>
<path d="M1222,548.1 L1287.4,547.0" stroke="#3a3a3a" stroke-width="1.5" fill="none" opacity="0.85"/>
<path d="M1221.4,550.4 L1288,549.2" stroke="#f4f4f4" stroke-width="0.9" fill="none"/>
<path d="M1224,552.0 L1286,550.9" stroke="#555" stroke-width="0.9" fill="none" opacity="0.8"/>
<path d="M1223,553.9 L1220.2,556.1 L1223,558.3 H1286.2 L1289,556.9 L1286.2,554.7 Z" fill="url(#thr)"/>
<path d="M1222,554.2 L1287.4,553.1" stroke="#3a3a3a" stroke-width="1.5" fill="none" opacity="0.85"/>
<path d="M1221.4,556.5 L1288,555.3" stroke="#f4f4f4" stroke-width="0.9" fill="none"/>
<path d="M1224,558.1 L1286,557.0" stroke="#555" stroke-width="0.9" fill="none" opacity="0.8"/>
<path d="M1223,560.0 L1220.2,562.2 L1223,564.4 H1286.2 L1289,563.0 L1286.2,560.8 Z" fill="url(#thr)"/>
<path d="M1222,560.3 L1287.4,559.2" stroke="#3a3a3a" stroke-width="1.5" fill="none" opacity="0.85"/>
<path d="M1221.4,562.6 L1288,561.4" stroke="#f4f4f4" stroke-width="0.9" fill="none"/>
<path d="M1224,564.2 L1286,563.1" stroke="#555" stroke-width="0.9" fill="none" opacity="0.8"/>
<path d="M1223,566.1 L1220.2,568.3 L1223,570.5 H1286.2 L1289,569.1 L1286.2,566.9 Z" fill="url(#thr)"/>
<path d="M1222,566.4 L1287.4,565.3" stroke="#3a3a3a" stroke-width="1.5" fill="none" opacity="0.85"/>
<path d="M1221.4,568.7 L1288,567.5" stroke="#f4f4f4" stroke-width="0.9" fill="none"/>
<path d="M1224,570.3 L1286,569.2" stroke="#555" stroke-width="0.9" fill="none" opacity="0.8"/>
<path d="M1223,572.2 L1220.2,574.4 L1223,576.6 H1286.2 L1289,575.2 L1286.2,573.0 Z" fill="url(#thr)"/>
<path d="M1222,572.5 L1287.4,571.4" stroke="#3a3a3a" stroke-width="1.5" fill="none" opacity="0.85"/>
<path d="M1221.4,574.8 L1288,573.6" stroke="#f4f4f4" stroke-width="0.9" fill="none"/>
<path d="M1224,576.4 L1286,575.3" stroke="#555" stroke-width="0.9" fill="none" opacity="0.8"/>
<path d="M1223,578.3 L1220.2,580.5 L1223,582.7 H1286.2 L1289,581.3 L1286.2,579.1 Z" fill="url(#thr)"/>
<path d="M1222,578.6 L1287.4,577.5" stroke="#3a3a3a" stroke-width="1.5" fill="none" opacity="0.85"/>
<path d="M1221.4,580.9 L1288,579.7" stroke="#f4f4f4" stroke-width="0.9" fill="none"/>
<path d="M1224,582.5 L1286,581.4" stroke="#555" stroke-width="0.9" fill="none" opacity="0.8"/>
<path d="M1223,584.4 L1220.2,586.6 L1223,588.8 H1286.2 L1289,587.4 L1286.2,585.2 Z" fill="url(#thr)"/>
<path d="M1222,584.7 L1287.4,583.6" stroke="#3a3a3a" stroke-width="1.5" fill="none" opacity="0.85"/>
<path d="M1221.4,587.0 L1288,585.8" stroke="#f4f4f4" stroke-width="0.9" fill="none"/>
<path d="M1224,588.6 L1286,587.5" stroke="#555" stroke-width="0.9" fill="none" opacity="0.8"/>
<rect x="1222.8" y="589.4" width="63.6" height="2.8" fill="url(#cyl)"/>
<rect x="1224.8" y="541.2" width="61" height="5.6" fill="url(#cyl)"/>
<rect x="1224.6" y="535.2" width="61.4" height="6.4" rx="1" fill="url(#cap)"/>
<path d="M186.5,636 H1319.3 L1323.8,641 L1329.6,808.7 H175.3 L181,641 Z" fill="#838383"/>
<path d="M181,641 L186.6,641.5 L180.1,808.7 H175.3 Z" fill="#7a7a7a"/>
<path d="M186.6,643 L180.2,808" stroke="#bcbcbc" stroke-width="2.2" fill="none"/>
<path d="M1323.8,641 L1318.4,641.5 L1325.2,808.7 H1329.6 Z" fill="#7a7a7a"/>
<path d="M1319.4,643 L1325.6,808" stroke="#bcbcbc" stroke-width="2.2" fill="none"/>
<rect x="399.3" y="635.4" width="8.6" height="5.4" fill="#fff"/>
<rect x="484" y="635.6" width="6.8" height="5" fill="#a8a8a8"/><rect x="483.1" y="635.6" width="1.6" height="5" fill="#606060"/>
<rect x="1161.2" y="635.6" width="6.6" height="4.8" fill="#b2b2b2"/><rect x="1167.2" y="635.6" width="1.2" height="4.8" fill="#5a5a5a"/>
<path d="M427.09999999999997,636.4 Q430.29999999999995,632.2 434.9,632.2 Q439.5,632.2 442.7,636.4 Z" fill="#8e8e8e"/>
<path d="M428.29999999999995,635.4 Q430.9,632.5 434.9,632.5 Q438.9,632.5 441.5,635.4" fill="none" stroke="#777" stroke-width="0.5"/>
<path d="M499.0,636.4 Q502.2,632.2 506.8,632.2 Q511.40000000000003,632.2 514.6,636.4 Z" fill="#8e8e8e"/>
<path d="M500.2,635.4 Q502.8,632.5 506.8,632.5 Q510.8,632.5 513.4,635.4" fill="none" stroke="#777" stroke-width="0.5"/>
<path d="M666.8000000000001,636.4 Q670.0,632.2 674.6,632.2 Q679.2,632.2 682.4,636.4 Z" fill="#8e8e8e"/>
<path d="M668.0,635.4 Q670.6,632.5 674.6,632.5 Q678.6,632.5 681.2,635.4" fill="none" stroke="#777" stroke-width="0.5"/>
<path d="M834.0,636.4 Q837.1999999999999,632.2 841.8,632.2 Q846.4,632.2 849.5999999999999,636.4 Z" fill="#8e8e8e"/>
<path d="M835.1999999999999,635.4 Q837.8,632.5 841.8,632.5 Q845.8,632.5 848.4,635.4" fill="none" stroke="#777" stroke-width="0.5"/>
<path d="M1001.4000000000001,636.4 Q1004.6,632.2 1009.2,632.2 Q1013.8000000000001,632.2 1017.0,636.4 Z" fill="#8e8e8e"/>
<path d="M1002.6,635.4 Q1005.2,632.5 1009.2,632.5 Q1013.2,632.5 1015.8000000000001,635.4" fill="none" stroke="#777" stroke-width="0.5"/>
</g>
<g id="dims">
<line class="dim" x1="175.1" y1="24.6" x2="175.1" y2="140.8"/>
<line class="dim" x1="1328.8" y1="24.6" x2="1328.8" y2="128"/>
<line class="dim" x1="175.2" y1="49.6" x2="1328.8" y2="49.6"/>
<polygon class="ah" points="175.2,49.6 187.2,44.0 187.2,55.2"/>
<polygon class="ah" points="1328.8,49.6 1316.8,44.0 1316.8,55.2"/>
<text x="759.8" y="41.2" text-anchor="middle">200.00mm</text>
<line class="dim" x1="212.5" y1="69" x2="212.5" y2="331.5"/>
<line class="dim" x1="1290.4" y1="69" x2="1290.4" y2="324"/>
<line class="dim" x1="212.5" y1="93.3" x2="1290.4" y2="93.3"/>
<polygon class="ah" points="212.5,93.3 224.5,87.7 224.5,98.89999999999999"/>
<polygon class="ah" points="1290.4,93.3 1278.4,87.7 1278.4,98.89999999999999"/>
<text x="759.6" y="85" text-anchor="middle">187.00mm</text>
<line class="dim" x1="107.5" y1="261.5" x2="212.5" y2="261.5"/>
<line class="dim" x1="107.5" y1="325.1" x2="212.5" y2="325.1"/>
<line class="dim" x1="129.6" y1="261.5" x2="129.6" y2="325.1"/>
<polygon class="ah" points="129.6,261.5 124.0,273.5 135.2,273.5"/>
<polygon class="ah" points="129.6,325.1 124.0,313.1 135.2,313.1"/>
<text transform="translate(99.2,291.6) rotate(-90)" text-anchor="middle">11.00mm</text>
<line class="dim" x1="190" y1="292.8" x2="235.8" y2="292.8"/>
<line class="dim" x1="200" y1="242.5" x2="200" y2="507.4"/>
<line class="dim" x1="225.4" y1="242.5" x2="225.4" y2="507.4"/>
<line class="dim" x1="177.3" y1="493.4" x2="200" y2="493.4"/>
<line class="dim" x1="225.4" y1="493.4" x2="248.2" y2="493.4"/>
<polygon class="ah" points="200,493.4 189,488.2 189,498.59999999999997"/>
<polygon class="ah" points="225.4,493.4 236.4,488.2 236.4,498.59999999999997"/>
<text x="216.3" y="526.5" text-anchor="middle">4.30mm</text>
<path d="M285.3,357.8 L454.2,526.5 H533.8" fill="none" stroke="url(#lead)" stroke-width="1.1"/>
<text x="491.8" y="515.8" text-anchor="middle">M12</text>
<path class="dim" d="M1304,275.3 L1410.4,197.9 H1545.8"/>
<text class="cjk" x="1489.8" y="187.6" text-anchor="middle">接地金属</text>
<line class="dim" x1="1268.8" y1="292.6" x2="1313.6" y2="292.6"/>
<line class="dim" x1="1290.4" y1="281.9" x2="1371" y2="281.9"/>
<line class="dim" x1="1290.4" y1="305.1" x2="1371" y2="305.1"/>
<line class="dim" x1="1356.3" y1="259.2" x2="1356.3" y2="281.9"/>
<line class="dim" x1="1356.3" y1="305.1" x2="1356.3" y2="328.4"/>
<polygon class="ah" points="1356.3,281.9 1351.1,270.9 1361.5,270.9"/>
<polygon class="ah" points="1356.3,305.1 1351.1,316.1 1361.5,316.1"/>
<text transform="translate(1381.8,295.2) rotate(90)" text-anchor="middle">4.30mm</text>
<line class="dim" x1="1287.6" y1="120.6" x2="1421.8" y2="120.6"/>
<line class="dim" x1="1287.6" y1="466.3" x2="1421.8" y2="466.3"/>
<line class="dim" x1="1407.8" y1="120.6" x2="1407.8" y2="466.3"/>
<polygon class="ah" points="1407.8,120.6 1402.2,132.6 1413.3999999999999,132.6"/>
<polygon class="ah" points="1407.8,466.3 1402.2,454.3 1413.3999999999999,454.3"/>
<text transform="translate(1425,296.6) rotate(90)" text-anchor="middle">60.00mm</text>
<line class="dim" x1="107.2" y1="635.6" x2="212.9" y2="635.6"/>
<line class="dim" x1="107.2" y1="808.6" x2="212.9" y2="808.6"/>
<line class="dim" x1="129.2" y1="635.6" x2="129.2" y2="808.6"/>
<polygon class="ah" points="129.2,635.6 123.6,647.6 134.79999999999998,647.6"/>
<polygon class="ah" points="129.2,808.6 123.6,796.6 134.79999999999998,796.6"/>
<text transform="translate(99,725) rotate(-90)" text-anchor="middle">30.00mm</text>
<line class="dim" x1="1284.6" y1="535.4" x2="1422.4" y2="535.4"/>
<line class="dim" x1="1286.8" y1="808.4" x2="1422.4" y2="808.4"/>
<line class="dim" x1="1408.7" y1="535.4" x2="1408.7" y2="808.4"/>
<polygon class="ah" points="1408.7,535.4 1403.1000000000001,547.4 1414.3,547.4"/>
<polygon class="ah" points="1408.7,808.4 1403.1000000000001,796.4 1414.3,796.4"/>
<text transform="translate(1423.6,674.2) rotate(90)" text-anchor="middle">47.50mm</text>
</g>
</svg>
</body>
</html>
